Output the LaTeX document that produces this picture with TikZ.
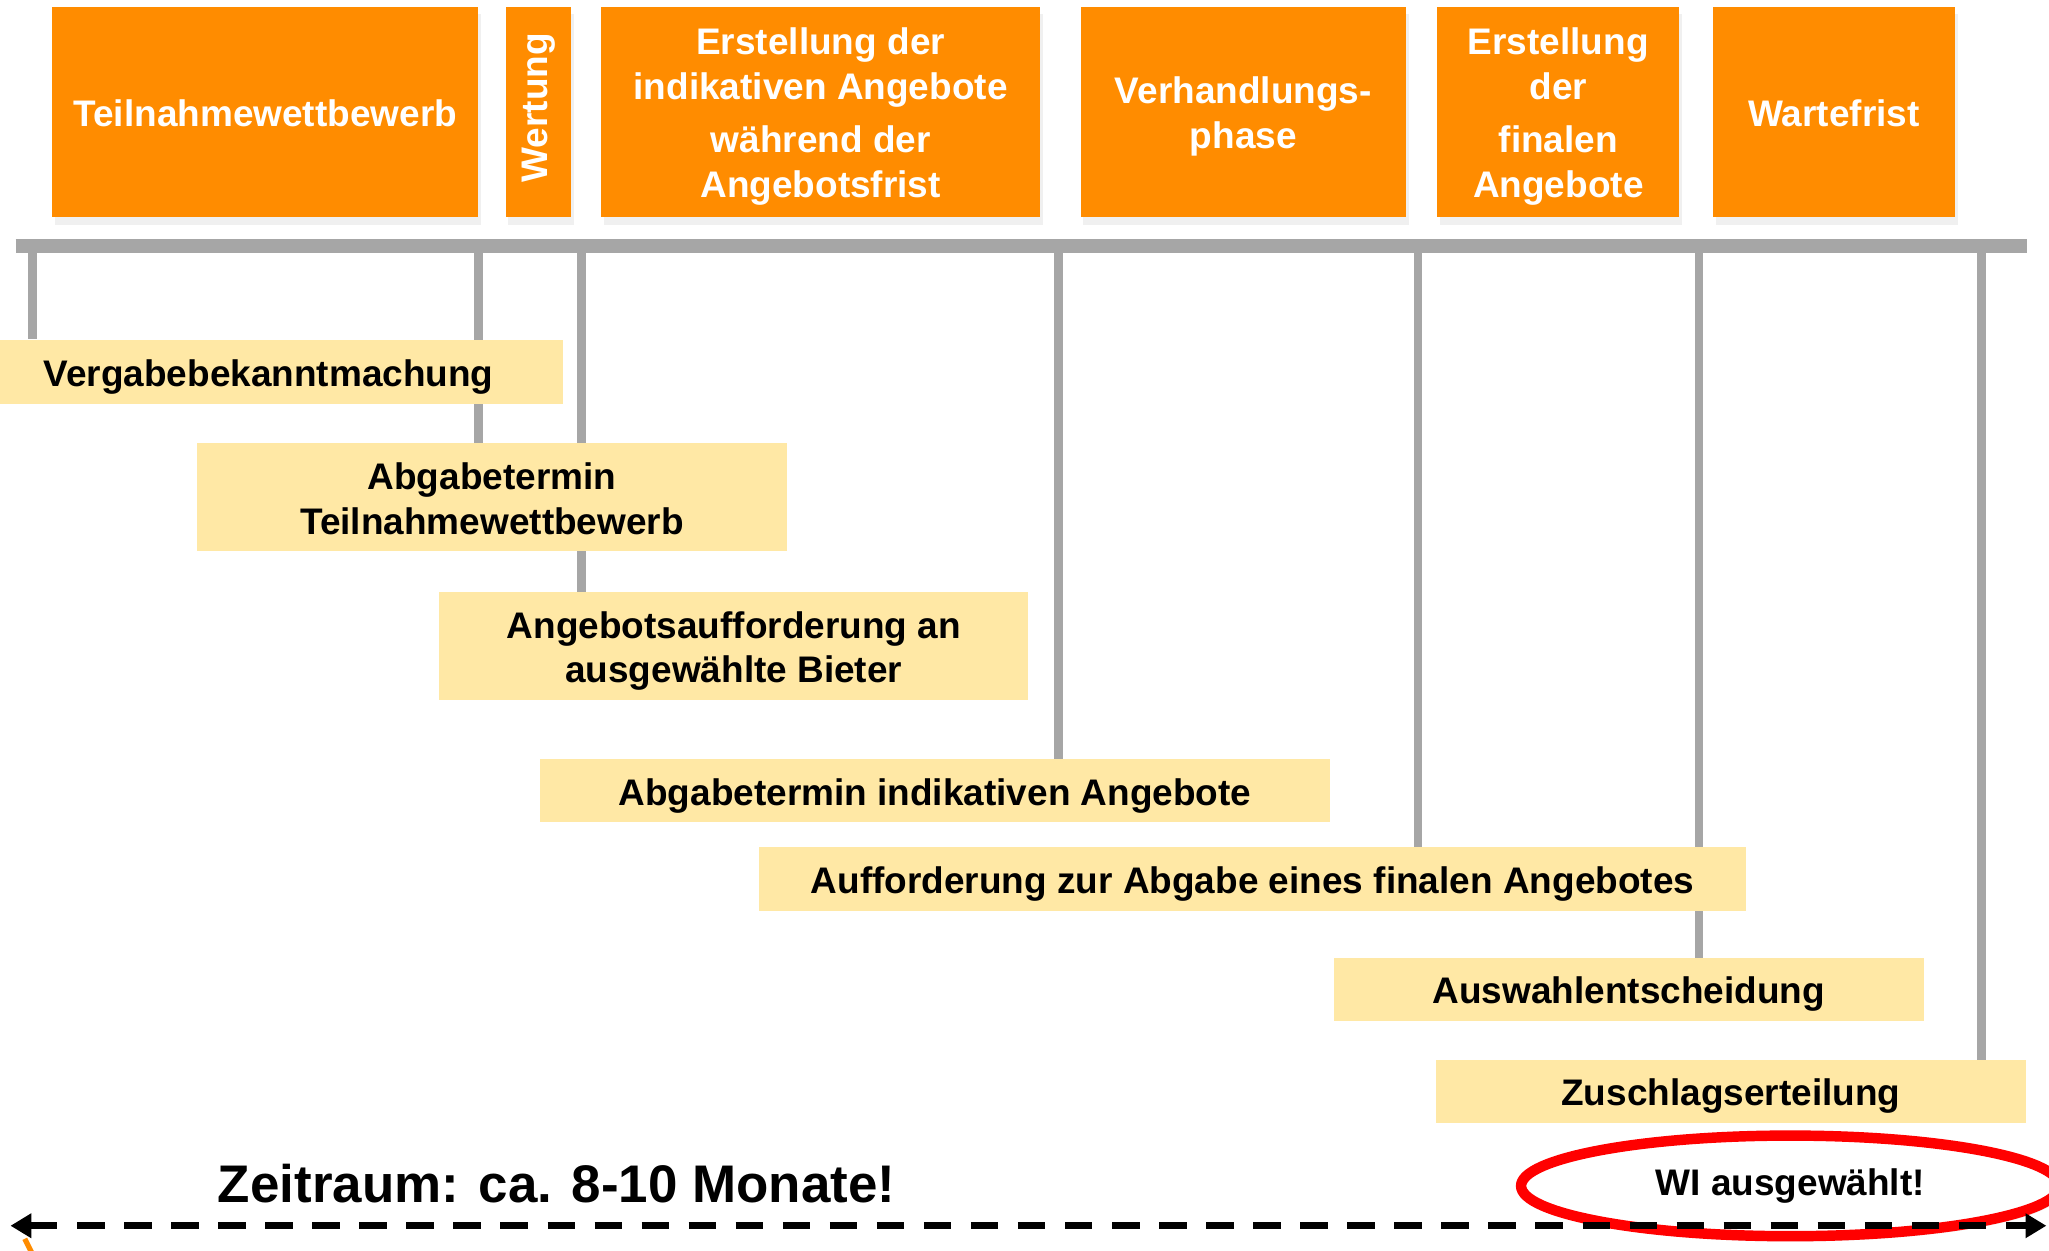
\documentclass[tikz,border=0pt]{standalone}
\usepackage{fontspec}
\setmainfont{Liberation Sans}
\usetikzlibrary{shapes.geometric,arrows.meta,shadows,backgrounds}

\definecolor{phaseorange}{HTML}{FF8C00}
\definecolor{eventyellow}{HTML}{FFE8A5}
\definecolor{bargray}{HTML}{A6A6A6}
\definecolor{wired}{HTML}{FF0000}

\newcommand{\linestrut}{\rule[-0.212em]{0pt}{1.212em}}
\newcommand{\topstrut}{\rule{0pt}{1em}}

\begin{document}
\begin{tikzpicture}[x=1pt,y=-1pt]
        \tikzstyle{phase}=[draw=none,fill=phaseorange,text=white,font=\fontsize{28.3}{34.5}\selectfont\bfseries,
            align=center,inner sep=2pt,minimum height=161pt,
            execute at begin node=\linestrut,execute at end node=\linestrut,
            drop shadow={opacity=0.12,shadow xshift=2pt,shadow yshift=-6pt}]
        \tikzstyle{event}=[fill=eventyellow,text=black,font=\fontsize{28.3}{34}\selectfont\bfseries,
            align=center,inner sep=0pt,minimum width=451pt,
            execute at begin node=\linestrut,execute at end node=\linestrut]
        \tikzstyle{tick}=[draw=bargray,line width=6.5pt]
        \useasboundingbox (0,0) rectangle (1568,957);

            % phases
            \node[phase,minimum width=326pt] (tw) at (203,85.5) {Teilnahmewettbewerb};
            \node[phase,minimum width=50pt,execute at begin node={},execute at end node={}] (wert) at (412,85.5) {\rotatebox{90}{Wertung}};
            \node[phase,minimum width=336pt] (ind) at (628,85.5) {\topstrut Erstellung der\\indikativen Angebote\\[6pt]während der\\Angebotsfrist};
            \node[phase,minimum width=249pt] (verh) at (951.5,85.5) {\topstrut Verhandlungs-\\phase};
            \node[phase,minimum width=185pt] (fin) at (1192.5,85.5) {\topstrut Erstellung\\der\\[6pt]finalen\\Angebote};
            \node[phase,minimum width=185pt] (wart) at (1403.5,85.5) {Wartefrist};

            % events
            \node[event,minimum height=49pt] (vb) at (205.5,284.5) {Vergabebekanntmachung};
            \node[event,minimum height=83pt] (at) at (376.5,380.5) {\topstrut Abgabetermin\\Teilnahmewettbewerb};
            \node[event,minimum height=83pt] (aa) at (561.5,494.5) {\topstrut Angebotsaufforderung an\\ausgewählte Bieter};
            \node[event,minimum width=605pt,minimum height=48pt] (ai) at (715.5,605) {Abgabetermin indikativen Angebote};
            \node[event,minimum width=755pt,minimum height=49pt] (af) at (958.5,672.5) {Aufforderung zur Abgabe eines finalen Angebotes};
            \node[event,minimum height=48pt] (ae) at (1246.5,757) {Auswahlentscheidung};
            \node[event,minimum height=48pt] (zs) at (1324.5,835) {Zuschlagserteilung};

            \coordinate (barL) at (12,188);
            \coordinate (barR) at (1551,188);
            \coordinate (t1) at (25,188);
            \coordinate (t2) at (366,188);
            \coordinate (t3) at (445,188);
            \coordinate (t4) at (810,188);
            \coordinate (t5) at (1085,188);
            \coordinate (t6) at (1300,188);
            \coordinate (t7) at (1516.5,188);

            \begin{scope}[on background layer]
            \draw[tick] (t1) -- (t1 |- vb.north)
            (t2) -- (t2 |- at.north)
            (t3) -- (t3 |- aa.north)
            (t4) -- (t4 |- ai.north)
            (t5) -- (t5 |- af.north)
            (t6) -- (t6 |- ae.north)
            (t7) -- (t7 |- zs.north);
            \end{scope}
            \draw[draw=bargray,line width=10.5pt] (barL) -- (barR);

            % time span
            \node[font=\fontsize{40.5}{48}\selectfont\bfseries] (zr) at (426,906) {Zeitraum: ca. 8-10 Monate!};
            \node[ellipse,draw=wired,line width=8pt,minimum width=412pt,minimum height=77pt,
                font=\fontsize{28.3}{34}\selectfont\bfseries,
                drop shadow={opacity=0.15,shadow xshift=2pt,shadow yshift=-4pt},fill=white] (wi) at (1370,907.5) {WI ausgewählt!};
            \coordinate (zl) at (8,938);
            \coordinate (zre) at (1566,938);
            \draw[line width=5pt,dash pattern=on 21pt off 15pt,{Triangle[length=16pt,width=18pt]}-{Triangle[length=16pt,width=18pt]}] (zl) -- (zre);
            \draw[phaseorange,line width=4pt] (19,948) -- (25,960);
        \end{tikzpicture}
\end{document}
